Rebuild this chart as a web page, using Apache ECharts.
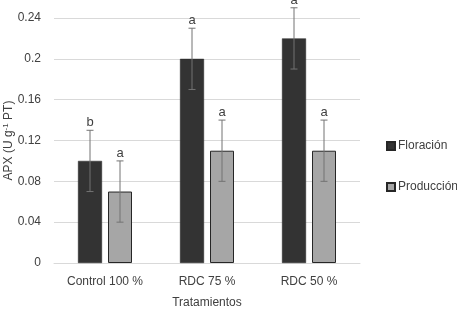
<!DOCTYPE html>
<html>
<head>
<meta charset="utf-8">
<script src="https://cdn.jsdelivr.net/npm/echarts@6/dist/echarts.min.js"></script>
<style>
  html, body { margin: 0; padding: 0; background: #fff; }
  #chart { width: 457px; height: 309px; }
</style>
</head>
<body>
<div id="chart"></div>
<script>
// datos
var tratamientos = ['Control 100 %', 'RDC 75 %', 'RDC 50 %'];
var floracion = [0.10, 0.20, 0.22];
var produccion = [0.07, 0.11, 0.11];
var errFloracion = [0.03, 0.03, 0.03];
var errProduccion = [0.03, 0.03, 0.03];
var letrasFloracion = ['b', 'a', 'a'];
var letrasProduccion = ['a', 'a', 'a'];
var yTicks = [0, 0.04, 0.08, 0.12, 0.16, 0.2, 0.24];

var FONT = '"Liberation Sans", Arial, sans-serif';
var TXT = '#404040';
var BAR_W = 24;
var OFFSET = 15;

function errorSeries(vals, errs, letras, shift) {
    var data = vals.map(function (v, i) { return [i, v, errs[i], letras[i]]; });
    return {
        type: 'custom',
        clip: false,
        silent: true,
        z: 10,
        data: data,
        encode: { x: 0, y: 1 },
        renderItem: function (params, api) {
            var i = api.value(0);
            var v = api.value(1);
            var e = api.value(2);
            var top = api.coord([i, v + e]);
            var bot = api.coord([i, v - e]);
            var x = top[0] + shift;
            var cap = 3.5;
            var style = { stroke: '#737373', lineWidth: 1 };
            return {
                type: 'group',
                children: [
                    { type: 'line', shape: { x1: x, y1: top[1], x2: x, y2: bot[1] }, style: style },
                    { type: 'line', shape: { x1: x - cap, y1: top[1], x2: x + cap, y2: top[1] }, style: style },
                    { type: 'line', shape: { x1: x - cap, y1: bot[1], x2: x + cap, y2: bot[1] }, style: style },
                    { type: 'text', x: x, y: top[1] - 1,
                      style: { text: letras[i], fill: TXT, font: '13px ' + FONT, align: 'center', verticalAlign: 'bottom' } }
                ]
            };
        }
    };
}

var myChart = echarts.init(document.getElementById('chart'));
var option = {
    animation: false,
    textStyle: { fontFamily: FONT },
    grid: { left: 54, right: 97, top: 18, bottom: 46, outerBoundsMode: 'none', containLabel: false },
    legend: {
        data: ['Floración', 'Producción'],
        orient: 'vertical',
        left: 381,
        top: 135,
        itemWidth: 8,
        itemHeight: 8,
        itemGap: 29,
        icon: 'rect',
        textStyle: { color: TXT, fontSize: 12, fontFamily: FONT, padding: [0, 0, 0, -2] }
    },
    xAxis: {
        type: 'category',
        data: tratamientos,
        name: 'Tratamientos',
        nameLocation: 'middle',
        nameGap: 34,
        nameMoveOverlap: false,
        nameTextStyle: { color: TXT, fontSize: 12, fontFamily: FONT },
        axisLine: { lineStyle: { color: '#d9d9d9' } },
        axisTick: { show: false },
        axisLabel: { color: TXT, fontSize: 12, margin: 13, interval: 0 }
    },
    yAxis: {
        type: 'value',
        min: 0,
        max: yTicks[yTicks.length - 1],
        interval: 0.04,
        name: '{n|APX (U g}{s|-1}{n| PT)}',
        nameLocation: 'middle',
        nameGap: 38,
        nameMoveOverlap: false,
        nameRotate: 90,
        nameTextStyle: {
            rich: {
                n: { color: TXT, fontSize: 12, fontFamily: FONT },
                s: { color: TXT, fontSize: 8, fontFamily: FONT, verticalAlign: 'top', padding: [0, 0, 6, 0] }
            }
        },
        axisLine: { show: false },
        axisTick: { show: false },
        splitLine: { lineStyle: { color: '#d9d9d9' } },
        axisLabel: {
            color: TXT, fontSize: 12, margin: 13,
            formatter: function (v) { return String(Math.round(v * 100) / 100); }
        }
    },
    series: [
        {
            name: 'Floración',
            type: 'bar',
            data: floracion,
            barWidth: BAR_W,
            barGap: '25%',
            itemStyle: { color: '#333333', borderColor: '#262626', borderWidth: 0.5 }
        },
        {
            name: 'Producción',
            type: 'bar',
            data: produccion,
            barWidth: BAR_W,
            itemStyle: { color: '#a6a6a6', borderColor: '#262626', borderWidth: 1 }
        },
        errorSeries(floracion, errFloracion, letrasFloracion, -OFFSET),
        errorSeries(produccion, errProduccion, letrasProduccion, OFFSET)
    ]
};
myChart.setOption(option);
window.addEventListener('resize', function () { myChart.resize(); });
</script>
</body>
</html>
